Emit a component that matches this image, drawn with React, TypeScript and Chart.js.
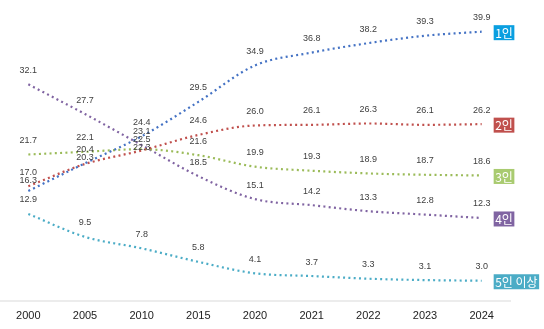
import React, { useEffect, useRef } from "react";
import { Chart, registerables } from "chart.js";

Chart.register(...registerables);

const years = ["2000", "2005", "2010", "2015", "2020", "2021", "2022", "2023", "2024"];
const seriesNames = ["1인", "2인", "3인", "4인", "5인 이상"];
const one = [16.3, 20.4, 24.4, 29.5, 34.9, 36.8, 38.2, 39.3, 39.9];
const two = [17.0, 20.3, 22.3, 24.6, 26.0, 26.1, 26.3, 26.1, 26.2];
const three = [21.7, 22.1, 22.5, 21.6, 19.9, 19.3, 18.9, 18.7, 18.6];
const four = [32.1, 27.7, 23.1, 18.5, 15.1, 14.2, 13.3, 12.8, 12.3];
const five = [12.9, 9.5, 7.8, 5.8, 4.1, 3.7, 3.3, 3.1, 3.0];

const lineColors = ["#4472C4", "#C0504D", "#9BBB59", "#8064A2", "#4BACC6"];
const tagColors = ["#0A9FE0", "#C0504D", "#A9CB70", "#8064A2", "#4BACC6"];

const labelPlugin = {
  id: "labels",
  afterDatasetsDraw(chart: any) {
    const ctx = chart.ctx;
    ctx.save();
    const n = chart.data.labels.length;
    // value labels with simple de-overlap per category
    for (let j = 0; j < n; j++) {
      const items: { x: number; y: number; t: string }[] = [];
      chart.data.datasets.forEach((ds: any, i: number) => {
        const pt = chart.getDatasetMeta(i).data[j];
        items.push({ x: pt.x, y: pt.y - 14, t: (ds.data[j] as number).toFixed(1) });
      });
      items.sort((a, b) => a.y - b.y);
      for (let k = 1; k < items.length; k++) {
        if (items[k].y - items[k - 1].y < 8) items[k].y = items[k - 1].y + 8;
      }
      ctx.font = "9px 'Liberation Sans', Arial, sans-serif";
      ctx.fillStyle = "#404040";
      ctx.textAlign = "center";
      ctx.textBaseline = "middle";
      items.forEach((it) => ctx.fillText(it.t, it.x, it.y));
    }
    chart.data.datasets.forEach((ds: any, i: number) => {
      const meta = chart.getDatasetMeta(i);
      const last = meta.data[meta.data.length - 1];
      ctx.font = "12px 'Noto Sans CJK KR', sans-serif";
      const text = ds.label;
      const w = ctx.measureText(text).width + 3;
      const x0 = last.x + 12;
      const h = 15;
      ctx.fillStyle = tagColors[i];
      ctx.fillRect(x0, last.y - h / 2 + 1, w, h);
      ctx.fillStyle = "#ffffff";
      ctx.textAlign = "left";
      ctx.textBaseline = "middle";
      ctx.fillText(text, x0 + 1.5, last.y + 1.5);
    });
    ctx.restore();
  },
};

export default function App() {
  const ref = useRef<HTMLCanvasElement | null>(null);
  useEffect(() => {
    if (!ref.current) return;
    const all = [one, two, three, four, five];
    const chart = new Chart(ref.current, {
      type: "line",
      data: {
        labels: years,
        datasets: all.map((d, i) => ({
          label: seriesNames[i],
          data: d,
          borderColor: lineColors[i],
          backgroundColor: lineColors[i],
          borderWidth: 2.2,
          borderDash: [2, 3.3],
          pointRadius: 0,
          cubicInterpolationMode: "monotone" as const,
          fill: false,
        })),
      },
      options: {
        animation: false,
        responsive: false,
        maintainAspectRatio: false,
        layout: { padding: { top: 4, right: 34, left: 0, bottom: 0 } },
        plugins: { legend: { display: false }, tooltip: { enabled: false } },
        scales: {
          x: {
            offset: true,
            grid: { display: false, drawTicks: false },
            border: { display: true, color: "#ececec", width: 2 },
            ticks: {
              color: "#222",
              font: { size: 11, family: "'Liberation Sans', Arial, sans-serif" },
              padding: 8,
              maxRotation: 0,
            },
            afterFit: (s: any) => {
              s.height = 28;
            },
          },
          y: { display: false, min: 0, max: 44 },
        },
      },
      plugins: [labelPlugin],
    });
    return () => chart.destroy();
  }, []);
  return (
    <div style={{ position: "fixed", left: 0, top: 0, width: 544, height: 329, background: "#fff" }}>
      <canvas ref={ref} width={544} height={329} style={{ width: 544, height: 329 }} />
    </div>
  );
}
